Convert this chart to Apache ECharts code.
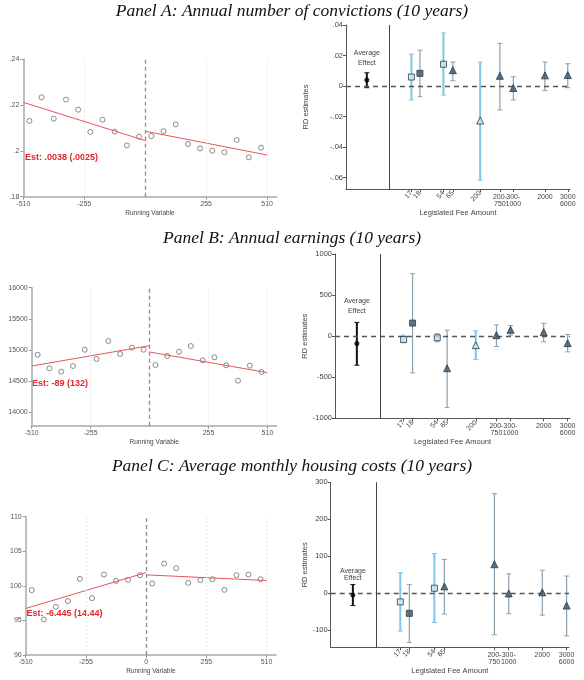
<!DOCTYPE html>
<html><head><meta charset="utf-8">
<script src="https://cdn.jsdelivr.net/npm/echarts@6/dist/echarts.min.js"></script>
<style>html,body{margin:0;padding:0;background:#fff}#c{width:584px;height:680px}</style>
</head><body><div id="c"></div>
<script>
// ---------------- DATA ----------------
const panelTitles = ['Panel A: Annual number of convictions (10 years)',
  'Panel B: Annual earnings (10 years)',
  'Panel C: Average monthly housing costs (10 years)'];

// running-variable bin centres
const binX = [-484.5,-433.5,-382.5,-331.5,-280.5,-229.5,-178.5,-127.5,-76.5,-25.5,
               25.5,76.5,127.5,178.5,229.5,280.5,331.5,382.5,433.5,484.5];
const binA = [.2131,.2234,.2141,.2224,.2180,.2083,.2136,.2084,.2024,.2062,
              .2065,.2086,.2116,.2030,.2011,.2001,.1994,.2048,.1972,.2014];
const binB = [14925,14706,14652,14743,15005,14856,15144,14936,15037,15005,
              14759,14904,14973,15064,14834,14882,14754,14508,14749,14647];
const binC = [99.38,95.14,96.97,97.79,101.01,98.22,101.63,100.72,100.87,101.54,
              100.34,103.22,102.55,100.43,100.82,100.96,99.42,101.54,101.63,100.96];
const fitA = [[[-510,.2212],[0,.2045]], [[0,.2086],[510,.1982]]];
const fitB = [[[-510,14743],[0,15070]], [[0,14968],[510,14636]]];
const fitC = [[[-510,96.73],[0,101.92]], [[0,101.59],[510,100.77]]];
const estText = ['Est: .0038 (.0025)', 'Est: -89 (132)', 'Est: -6.445 (14.44)'];

// legislated fee groups (right panels)
const feeLabels = ['17','18','54','65','200','200-\n750','300-\n1000','2000','3000\n6000'];
const feeAxisPos = [29.2,33,43.5,47.7,59.9,68.7,74.7,88.8,99];
const feeRotated = [true,true,true,true,true,false,false,false,false];
const markerKind = ['sqL','sqD','sqL','triD','triL','triD','triD','triD','triD'];
const avgAxisPos = 9.3;
const separatorPos = 19.3;

const rdA = [.0059,.0083,.0143,.0104,-.0226,.0067,-.0013,.0070,.0072];
const loA = [-.0091,-.0070,-.0059,.0035,-.0617,-.0157,-.0091,-.0030,-.0011];
const hiA = [.0209,.0235,.0348,.0157,.0157,.0280,.0061,.0157,.0146];
const avgA = [.0039,-.0011,.0087];

const rdB = [-41,159,-20,-390,-110,12,77,49,-85];
const loB = [-81,-447,-69,-870,-285,-126,12,-69,-191];
const hiB = [12,760,33,73,65,138,130,155,20];
const avgB = [-89,-354,167];

const rdC = [-24,-55,13,18,null,78,-1,2,-34];
const loC = [-103,-134,-80,-57,null,-113,-56,-60,-116];
const hiC = [55,23,107,91,null,269,52,62,46];
const avgC = [-5,-34,23];

// ---------------- CHART ----------------
const chart = echarts.init(document.getElementById('c'));
const option = {animation:false, title:[], grid:[], xAxis:[], yAxis:[], series:[], graphic:[]};
const SANS = 'Liberation Sans, Arial, sans-serif';

panelTitles.forEach((t,i)=>{
  option.title.push({text:t, left:'center', top:[-3,224,452][i],
    textStyle:{fontFamily:'Liberation Serif, Times New Roman, serif', fontStyle:'italic',
      fontWeight:'normal', fontSize:17.5, color:'#111'}});
});

function fmtLead(v){ const s=String(+Math.abs(v).toFixed(3)).replace(/^0\./,'.'); return (v<0?'-':'')+s; }
const LBL = {hideOverlap:false, showMinLabel:true, showMaxLabel:true};

function addLeft(cfg){
  const gi = option.grid.length;
  option.grid.push(cfg.grid);
  const xi = option.xAxis.length, yi = option.yAxis.length;
  option.xAxis.push({type:'value', gridIndex:gi, min:-510, max:550,
    axisLine:{show:true, onZero:false, lineStyle:{color:'#a8a8a8', width:1.5}},
    axisTick:{show:true, length:3, customValues:cfg.xLab, lineStyle:{color:'#999'}},
    axisLabel:Object.assign({customValues:cfg.xLab, fontSize:7, color:'#555', margin:4, fontFamily:SANS}, LBL),
    splitLine:{show:false},
    name:'Running Variable', nameLocation:'middle', nameGap:13,
    nameTextStyle:{fontSize:6.5, color:'#444', fontFamily:SANS}});
  option.yAxis.push({type:'value', gridIndex:gi, min:cfg.ymin, max:cfg.ymax,
    axisLine:{show:true, onZero:false, lineStyle:{color:'#a8a8a8', width:1.5}},
    axisTick:{show:true, length:3, customValues:cfg.yLab, lineStyle:{color:'#999'}},
    axisLabel:Object.assign({customValues:cfg.yLab, fontSize:7, color:'#555', margin:4, fontFamily:SANS, formatter:cfg.yFmt}, LBL),
    splitLine:{show:false}});
  option.series.push({type:'scatter', xAxisIndex:xi, yAxisIndex:yi, z:3,
    data: binX.map((x,k)=>[x,cfg.bins[k]]), symbol:'circle', symbolSize:5,
    itemStyle:{color:'#fff', borderColor:'#6e6e6e', borderWidth:1},
    markLine:{silent:true, symbol:'none', label:{show:false},
      data:[
        {xAxis:-255, lineStyle:{color:'#e6e6e6', type:[2,2], width:1}},
        {xAxis:255, lineStyle:{color:'#e6e6e6', type:[2,2], width:1}},
        {xAxis:510, lineStyle:{color:'#e6e6e6', type:[2,2], width:1}},
        {xAxis:0, lineStyle:{color:'#8c8c8c', type:[4,3], width:1.3}}
      ]}});
  cfg.fit.forEach(seg=>{
    option.series.push({type:'line', xAxisIndex:xi, yAxisIndex:yi, z:4, data:seg,
      symbol:'none', lineStyle:{color:'#e4565a', width:1}});
  });
  option.graphic.push({type:'text', left:cfg.estPos[0], top:cfg.estPos[1],
    style:{text:cfg.est, fill:'#e3242b', font:'bold 9px '+SANS}});
}

addLeft({grid:{left:23.3, top:59.3, width:253.4, height:137.4}, ymin:.18, ymax:.24,
  yLab:[.18,.2,.22,.24], yFmt:v=>fmtLead(v), xLab:[-510,-255,255,510], bins:binA, fit:fitA,
  est:estText[0], estPos:[25,153]});
addLeft({grid:{left:31.7, top:287.7, width:245, height:138}, ymin:13785, ymax:16000,
  yLab:[14000,14500,15000,15500,16000], yFmt:v=>String(v), xLab:[-510,-255,255,510], bins:binB, fit:fitB,
  est:estText[1], estPos:[32,379]});
addLeft({grid:{left:25.7, top:516.7, width:250.3, height:138.3}, ymin:90, ymax:110,
  yLab:[90,95,100,105,110], yFmt:v=>String(v), xLab:[-510,-255,0,255,510], bins:binC, fit:fitC,
  est:estText[2], estPos:[26.5,609]});

const LIGHT_CI='#80c5e3', DARK_CI='#8e9fac', FILL_L='#cfe3ed', FILL_D='#3d5567', BORDER='#26394a';

function errRender(meta, cap){
  return function(params, api){
    const x=api.value(0), lo=api.value(1), hi=api.value(2);
    const a=api.coord([x,lo]), b=api.coord([x,hi]);
    const m=meta[params.dataIndex];
    const st={stroke:m.color, lineWidth:m.width};
    return {type:'group', children:[
      {type:'line', shape:{x1:a[0],y1:a[1],x2:b[0],y2:b[1]}, style:st},
      {type:'line', shape:{x1:a[0]-cap,y1:a[1],x2:a[0]+cap,y2:a[1]}, style:{stroke:m.color, lineWidth:1}},
      {type:'line', shape:{x1:b[0]-cap,y1:b[1],x2:b[0]+cap,y2:b[1]}, style:{stroke:m.color, lineWidth:1}}
    ]};
  };
}

function addRight(cfg){
  const gi = option.grid.length;
  option.grid.push(cfg.grid);
  const xi = option.xAxis.length, yi = option.yAxis.length;
  const idx = feeLabels.map((_,k)=>k).filter(k=>cfg.rd[k]!==null);
  const allPos = idx.map(k=>feeAxisPos[k]);
  // main axis: line + ticks + title
  option.xAxis.push({type:'value', gridIndex:gi, min:0, max:100, position:'bottom',
    axisLine:{show:true, onZero:false, lineStyle:{color:'#555', width:1}},
    axisTick:{show:true, length:3, customValues:allPos, lineStyle:{color:'#555'}},
    axisLabel:{show:false},
    splitLine:{show:false},
    name:'Legislated Fee Amount', nameLocation:'middle', nameGap:cfg.nameGap,
    nameTextStyle:{fontSize:7.5, color:'#444', fontFamily:SANS}});
  // one label axis per fee group (labels overlap in the original)
  idx.forEach(k=>{
    const rot = feeRotated[k];
    option.xAxis.push({type:'value', gridIndex:gi, min:0, max:100, position:'bottom',
      axisLine:{show:false, onZero:false}, axisTick:{show:false}, splitLine:{show:false},
      axisLabel:Object.assign({customValues:[feeAxisPos[k]], rotate: rot?45:0, fontSize:7,
        lineHeight:7.5, color:'#444', margin: rot?3:4, fontFamily:SANS,
        formatter:()=>feeLabels[k]}, LBL)});
  });
  option.yAxis.push({type:'value', gridIndex:gi, min:cfg.ymin, max:cfg.ymax,
    axisLine:{show:true, onZero:false, lineStyle:{color:'#555', width:1}},
    axisTick:{show:true, length:3, customValues:cfg.yLab, lineStyle:{color:'#555'}},
    axisLabel:Object.assign({customValues:cfg.yLab, fontSize:7.5, color:'#444', margin:3, fontFamily:SANS, formatter:cfg.yFmt}, LBL),
    splitLine:{show:false},
    name:'RD estimates', nameLocation:'middle', nameGap:cfg.yNameGap, nameRotate:90,
    nameTextStyle:{fontSize:7.5, color:'#444', fontFamily:SANS}});
  // reference lines
  option.series.push({type:'line', xAxisIndex:xi, yAxisIndex:yi, data:[], z:1,
    markLine:{silent:true, symbol:'none', label:{show:false}, animation:false,
      data:[
        {yAxis:0, lineStyle:{color:'#555', type:[5,4], width:1.3}},
        {xAxis:separatorPos, lineStyle:{color:'#444', type:'solid', width:1}}
      ]}});
  // CI bars
  const meta = idx.map(k=>{
    const light = markerKind[k].endsWith('L');
    return {color: light?LIGHT_CI:DARK_CI, width: light?2:1.2};
  });
  option.series.push({type:'custom', xAxisIndex:xi, yAxisIndex:yi, z:3,
    renderItem:errRender(meta,2.5), data:idx.map(k=>[feeAxisPos[k],cfg.lo[k],cfg.hi[k]])});
  // markers
  option.series.push({type:'scatter', xAxisIndex:xi, yAxisIndex:yi, z:5,
    data: idx.map(k=>{
      const kind=markerKind[k]; const sq=kind.startsWith('sq'); const light=kind.endsWith('L');
      return {value:[feeAxisPos[k],cfg.rd[k]], symbol: sq?'rect':'triangle', symbolSize: sq?6:7,
        itemStyle:{color: light?FILL_L:FILL_D, borderColor:BORDER, borderWidth:1}};
    })});
  // average effect
  option.series.push({type:'custom', xAxisIndex:xi, yAxisIndex:yi, z:3,
    renderItem:errRender([{color:'#111', width:2}],2.5), data:[[avgAxisPos,cfg.avg[1],cfg.avg[2]]]});
  option.series.push({type:'scatter', xAxisIndex:xi, yAxisIndex:yi, z:5,
    data:[[avgAxisPos,cfg.avg[0]]], symbol:'circle', symbolSize:5, itemStyle:{color:'#000'},
    markPoint:{symbol:'circle', symbolSize:0, silent:true,
      data:[{coord:[avgAxisPos,cfg.avgLabelY]}],
      label:{show:true, position:'inside', formatter:'Average\nEffect', fontSize:7, lineHeight:cfg.avgLH,
        color:'#444', fontFamily:SANS}}});
}

addRight({grid:{left:346, top:25, width:224, height:164}, ymin:-.0675, ymax:.04,
  yLab:[-.06,-.04,-.02,0,.02,.04], yFmt:v=>v===0?'0':fmtLead(v), rd:rdA, lo:loA, hi:hiA, avg:avgA,
  avgLabelY:.0186, avgLH:10, nameGap:20, yNameGap:36});
addRight({grid:{left:335, top:254, width:235, height:164.3}, ymin:-1000, ymax:1000,
  yLab:[-1000,-500,0,500,1000], yFmt:v=>String(v), rd:rdB, lo:loB, hi:hiB, avg:avgB,
  avgLabelY:366, avgLH:10, nameGap:20, yNameGap:26});
addRight({grid:{left:330.7, top:482.3, width:238.3, height:165}, ymin:-147, ymax:300,
  yLab:[-100,0,100,200,300], yFmt:v=>String(v), rd:rdC, lo:loC, hi:hiC, avg:avgC,
  avgLabelY:51, avgLH:7, nameGap:20, yNameGap:22});

chart.setOption(option);
</script></body></html>
